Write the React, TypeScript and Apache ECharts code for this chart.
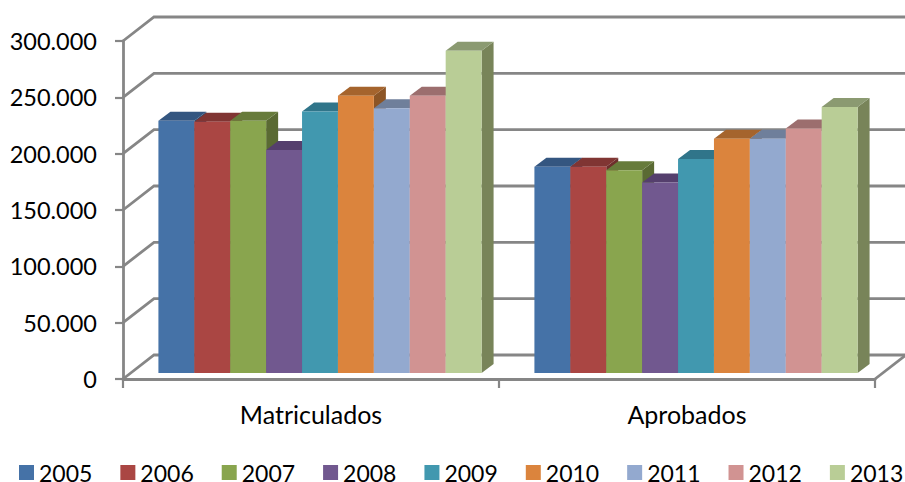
import React, { useEffect, useRef } from "react";
import * as echarts from "echarts";

const categories = ["Matriculados", "Aprobados"];
const years = ["2005", "2006", "2007", "2008", "2009", "2010", "2011", "2012", "2013"];
const matriculados = [224000, 223000, 224000, 198000, 232000, 246000, 235000, 246000, 286000];
const aprobados = [183000, 183000, 180000, 169000, 190000, 208000, 208000, 217000, 236000];
const yTicks = [0, 50000, 100000, 150000, 200000, 250000, 300000];
const yTickLabels = ["0", "50.000", "100.000", "150.000", "200.000", "250.000", "300.000"];
const frontColors = ["#4572A7", "#AA4643", "#89A54E", "#71588F", "#4198AF", "#DB843D", "#93A9CF", "#D19392", "#B9CD96"];
const topColors = ["#345680", "#803533", "#677B3B", "#553F6D", "#30758A", "#A5642D", "#6F7F9B", "#9C6E6E", "#8B9A71"];
const sideColors = ["#2C4A6E", "#6E2E2C", "#5A6A33", "#493760", "#2A6577", "#8C5526", "#606E87", "#876060", "#788459"];

const FONT = "Lato";
const WALL_DX = 31;
const WALL_DY = -24;
const PLANE_DX = 9;
const PLANE_DY = -6;
const BAR_DX = 12;
const BAR_DY = -9;
const BAR_SHARE = 0.0955;
const LINE_WIDTH = 2.8;
const LINE = { stroke: "#868686", lineWidth: LINE_WIDTH, fill: "none" };

function wallItem(_params: any, api: any) {
  const [x0, y] = api.coord([0, api.value(0)]);
  const band = api.size([1, 0])[0];
  const xEnd = x0 - band / 2 + band * 2;
  const left = x0 - band / 2;
  const children: any[] = [
    { type: "polyline", shape: { points: [[left, y], [left + WALL_DX, y + WALL_DY], [xEnd + WALL_DX, y + WALL_DY]] }, style: LINE },
  ];
  if (api.value(0) === 0) {
    children.push({ type: "line", shape: { x1: xEnd, y1: y, x2: xEnd + WALL_DX, y2: y + WALL_DY }, style: LINE });
  }
  return { type: "group", children };
}

function barItem(index: number) {
  return (_params: any, api: any) => {
    const cat = api.value(0);
    const val = api.value(1);
    const [cx, yTop] = api.coord([cat, val]);
    const [, yBase] = api.coord([cat, 0]);
    const band = api.size([1, 0])[0];
    const w = band * BAR_SHARE;
    const x = cx + PLANE_DX + (index - 4.5) * w;
    const t = yTop + PLANE_DY;
    const b = yBase + PLANE_DY;
    return {
      type: "group",
      children: [
        { type: "polygon", shape: { points: [[x + w, t], [x + w + BAR_DX, t + BAR_DY], [x + w + BAR_DX, b + BAR_DY], [x + w, b]] }, style: { fill: sideColors[index] } },
        { type: "polygon", shape: { points: [[x, t], [x + BAR_DX, t + BAR_DY], [x + w + BAR_DX, t + BAR_DY], [x + w, t]] }, style: { fill: topColors[index] } },
        { type: "rect", shape: { x, y: t, width: w, height: b - t }, style: { fill: frontColors[index] } },
      ],
    };
  };
}

export default function App() {
  const ref = useRef<HTMLDivElement>(null);
  useEffect(() => {
    const chart = echarts.init(ref.current!, undefined, { renderer: "svg" });
    chart.setOption({
      animation: false,
      backgroundColor: "#ffffff",
      grid: { left: 123, right: 30, top: 41, bottom: 103 },
      legend: {
        data: years,
        left: 19,
        top: 461,
        padding: 0,
        icon: "rect",
        itemWidth: 15,
        itemHeight: 15,
        itemGap: 28,
        textStyle: { fontFamily: FONT, fontSize: 23, color: "#000000" },
      },
      xAxis: {
        type: "category",
        data: categories,
        axisLine: { lineStyle: { color: "#868686", width: LINE_WIDTH } },
        axisTick: { show: true, length: 9, lineStyle: { color: "#868686", width: 2.2 } },
        axisLabel: { fontFamily: FONT, fontSize: 25, color: "#000000", margin: 22 },
      },
      yAxis: {
        type: "value",
        min: 0,
        max: 300000,
        interval: 50000,
        splitLine: { show: false },
        axisLine: { show: true, lineStyle: { color: "#868686", width: LINE_WIDTH } },
        axisTick: { show: true, length: 8, lineStyle: { color: "#868686", width: 2.2 } },
        axisLabel: {
          fontFamily: FONT,
          fontSize: 23.5,
          color: "#000000",
          margin: 26,
          padding: [3, 0, 0, 0],
          formatter: (v: number) => yTickLabels[yTicks.indexOf(v)],
        },
      },
      series: [
        { type: "custom", name: "walls", silent: true, renderItem: wallItem, encode: { y: 0 }, data: yTicks.map((v) => [v]), z: 1 },
        ...years.map((year, i) => ({
          type: "custom",
          name: year,
          silent: true,
          z: 2,
          itemStyle: { color: frontColors[i] },
          renderItem: barItem(i),
          encode: { x: 0, y: 1 },
          data: [[0, matriculados[i]], [1, aprobados[i]]],
        })),
      ],
    });
    return () => chart.dispose();
  }, []);
  return <div ref={ref} style={{ position: "absolute", left: 0, top: 0, width: 905, height: 482 }} />;
}
